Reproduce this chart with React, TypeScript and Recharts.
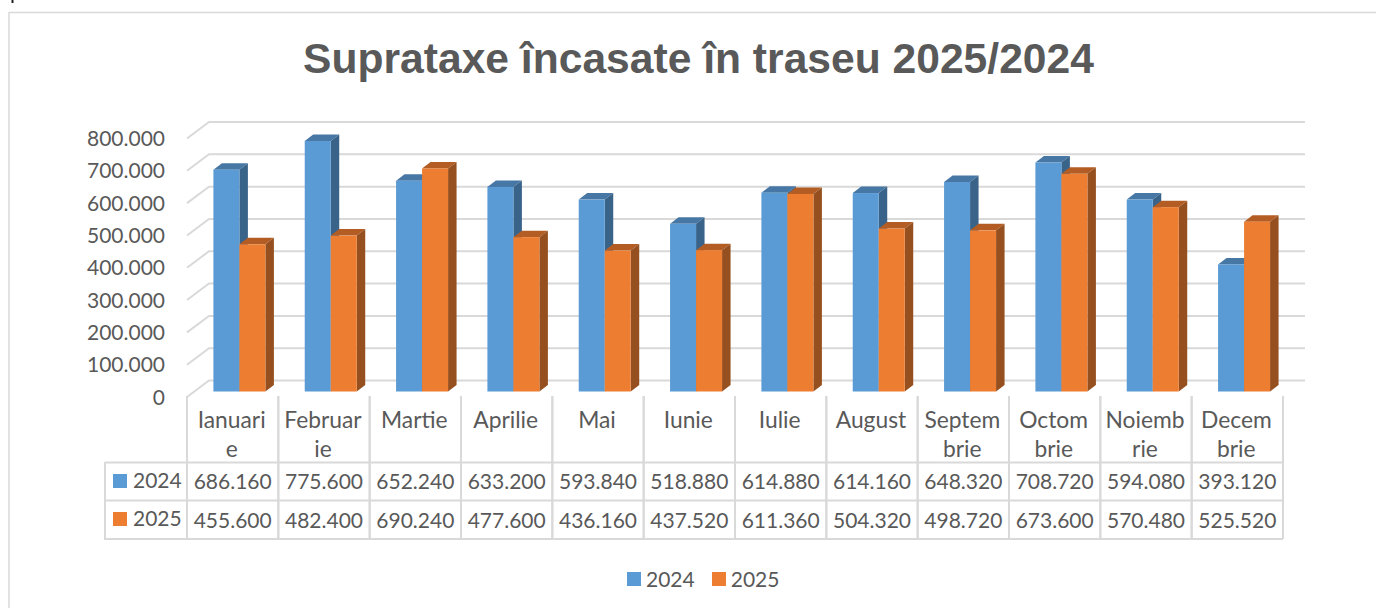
import React from 'react';
import { BarChart, Bar, XAxis, YAxis, CartesianGrid, Legend } from 'recharts';

const categoryLines = [
  ['Ianuari', 'e'], ['Februar', 'ie'], ['Martie'], ['Aprilie'], ['Mai'], ['Iunie'],
  ['Iulie'], ['August'], ['Septem', 'brie'], ['Octom', 'brie'], ['Noiemb', 'rie'], ['Decem', 'brie'],
];
const values2024 = [686160, 775600, 652240, 633200, 593840, 518880, 614880, 614160, 648320, 708720, 594080, 393120];
const values2025 = [455600, 482400, 690240, 477600, 436160, 437520, 611360, 504320, 498720, 673600, 570480, 525520];
const yTicks = [0, 100000, 200000, 300000, 400000, 500000, 600000, 700000, 800000];

const chartData = categoryLines.map((lines, i) => ({
  name: lines.join(''),
  lines,
  v2024: values2024[i],
  v2025: values2025[i],
}));

const FONT = 'Lato, sans-serif';
const TEXT = '#595959';
const LINE = '#d9d9d9';
const DX = 8.5;
const DY = 6.5;

const fmt = (n: number) => String(n).replace(/\B(?=(\d{3})+$)/g, '.');

const Cuboid = ({ x, y, width, height, front, top, side }: any) => {
  const r = x + width;
  const b = y + height;
  return (
    <g>
      <polygon points={`${x},${y} ${x + DX},${y - DY} ${r + DX},${y - DY} ${r},${y}`} fill={top} />
      <polygon points={`${r},${y} ${r + DX},${y - DY} ${r + DX},${b - DY} ${r},${b}`} fill={side} />
      <rect x={x} y={y} width={width} height={height} fill={front} />
    </g>
  );
};

const YTick = ({ x, y, payload }: any) => (
  <text x={x} y={y + 13} textAnchor="end" fontFamily={FONT} fontSize={21} fill={TEXT}>
    {fmt(payload.value)}
  </text>
);

// gridline on the back wall + the slanted bit on the side wall
const GridLine = ({ x1, x2, y1 }: any) => (
  <g>
    <polyline
      points={`${x1 - 7},${y1 + 5.5} ${x1 + 15},${y1 - 11} ${x2 + 15},${y1 - 11}`}
      fill="none"
      stroke={LINE}
      strokeWidth={2}
    />
  </g>
);

// one column of the data table under the chart
const TableColumn = ({ x, payload, index }: any) => {
  const row = chartData[index];
  const cx = x - 7;
  const left = x - 52.67;
  const right = x + 38.67;
  return (
    <g fontFamily={FONT} fontSize={21} fill={TEXT} textAnchor="middle">
      <line x1={left} x2={left} y1={396} y2={539} stroke={LINE} strokeWidth={2} />
      <line x1={right} x2={right} y1={396} y2={539} stroke={LINE} strokeWidth={2} />
      {row.lines.map((t, i) => (
        <text key={t} x={cx - 1} y={427.5 + i * 29} fontSize={22.8}>{t}</text>
      ))}
      <text x={cx} y={489}>{fmt(row.v2024)}</text>
      <text x={cx} y={527.5}>{fmt(row.v2025)}</text>
      <title>{payload.value}</title>
    </g>
  );
};

const LegendRow = ({ payload }: any) => (
  <div style={{ display: 'flex', justifyContent: 'flex-start', paddingLeft: 627, fontFamily: FONT, fontSize: 21, color: TEXT, lineHeight: '30px' }}>
    {(payload || []).map((item: any) => (
      <div key={item.value} style={{ display: 'flex', alignItems: 'center', marginRight: 17 }}>
        <span style={{ width: 14, height: 14, background: item.color, marginRight: 5 }} />
        <span>{item.value}</span>
      </div>
    ))}
  </div>
);

const App: React.FC = () => {
  return (
    <div style={{ position: 'absolute', left: 0, top: 0, width: 1376, height: 608, background: '#fff', overflow: 'hidden' }}>
      <BarChart
        width={1376}
        height={608}
        data={chartData}
        margin={{ top: 133, right: 86, left: 0, bottom: 86.5 }}
        barCategoryGap={19.4}
        barGap={0}
      >
        <line x1={12.5} x2={12.5} y1={0} y2={3} stroke="#222" strokeWidth={2} />
        <line x1={9} x2={9} y1={12} y2={608} stroke={LINE} strokeWidth={1.5} />
        <line x1={9} x2={1376} y1={12.5} y2={12.5} stroke={LINE} strokeWidth={1.5} />
        <text x={698.5} y={73} textAnchor="middle" fontFamily="Liberation Sans, Arial, sans-serif" fontWeight={700} fontSize={42.6} fill={TEXT}>
          Suprataxe încasate în traseu 2025/2024
        </text>
        <CartesianGrid vertical={false} horizontal={(p: any) => <GridLine key={p.key} {...p} />} />
        <YAxis
          width={194}
          domain={[0, 800000]}
          ticks={yTicks}
          interval={0}
          axisLine={false}
          tickLine={false}
          tick={(p: any) => <YTick {...p} x={165} />}
        />
        <XAxis dataKey="name" height={100} interval={0} axisLine={false} tickLine={false} tick={(p: any) => <TableColumn {...p} />} />
        <Bar
          dataKey="v2024"
          name="2024"
          fill="#5b9bd5"
          isAnimationActive={false}
          shape={(p: any) => <Cuboid {...p} front="#5b9bd5" top="#4677a5" side="#3a6389" />}
        />
        <Bar
          dataKey="v2025"
          name="2025"
          fill="#ed7d31"
          isAnimationActive={false}
          shape={(p: any) => <Cuboid {...p} front="#ed7d31" top="#b35d24" side="#964f1e" />}
        />
        {/* table frame + series column */}
        <line x1={105} x2={1283} y1={462.5} y2={462.5} stroke={LINE} strokeWidth={2} />
        <line x1={105} x2={1283} y1={500.5} y2={500.5} stroke={LINE} strokeWidth={2} />
        <line x1={105} x2={1283} y1={539} y2={539} stroke={LINE} strokeWidth={2} />
        <line x1={105} x2={105} y1={462} y2={540} stroke={LINE} strokeWidth={2} />
        <rect x={113} y={474} width={14} height={14} fill="#5b9bd5" />
        <rect x={113} y={512} width={14} height={14} fill="#ed7d31" />
        <text x={133} y={488} fontFamily={FONT} fontSize={21} fill={TEXT}>2024</text>
        <text x={133} y={526} fontFamily={FONT} fontSize={21} fill={TEXT}>2025</text>
        <Legend
          content={(p: any) => <LegendRow {...p} />}
          wrapperStyle={{ top: 564, left: 0, width: 1376, height: 30 }}
        />
      </BarChart>
    </div>
  );
};

export default App;
